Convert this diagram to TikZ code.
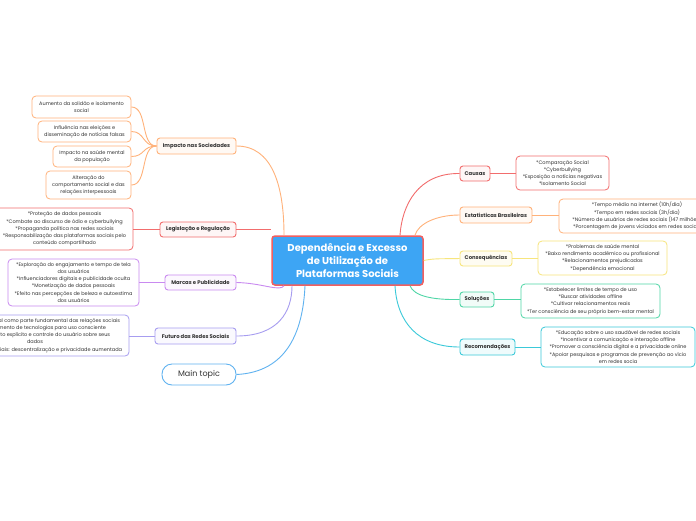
\documentclass[tikz,border=0pt]{standalone}
\usepackage{fontspec}
\setmainfont{Poppins}
\definecolor{txt}{HTML}{333333}
\definecolor{cred}{HTML}{F26D6D}
\definecolor{corange}{HTML}{FFB27A}
\definecolor{cpurple}{HTML}{C98AF0}
\definecolor{clav}{HTML}{A79DF0}
\definecolor{cblue}{HTML}{5FB2F0}
\definecolor{cyellow}{HTML}{F7E57C}
\definecolor{cgreen}{HTML}{4FD6A6}
\definecolor{ccyan}{HTML}{3BC9D9}
\definecolor{cfill}{HTML}{3DA5F4}
\definecolor{cborder}{HTML}{F25F5F}
\begin{document}
\begin{tikzpicture}[x=1pt,y=-1pt,
  leaf/.style={draw, rounded corners=4pt, line width=0.8pt, fill=white, align=center, inner sep=1pt, font=\fontsize{5}{7.2}\selectfont, text=txt},
  br/.style={draw, rounded corners=3pt, line width=0.9pt, align=center, inner sep=1pt, font=\fontsize{5.3}{6.5}\selectfont\bfseries, text=txt},
  lnk/.style={line width=0.9pt}]
\useasboundingbox (0,0) rectangle (696,520);
\clip (0,0) rectangle (696,520);
\fill[white] (0,0) rectangle (696,520);

% central
\node[draw=cborder, fill=cfill, line width=1.5pt, rounded corners=3pt, minimum width=151pt, minimum height=49pt, align=center, text=white, font=\fontsize{10}{13}\selectfont\bfseries] (c) at (347.5,260.5) {Dependência e Excesso\\de Utilização de\\Plataformas Sociais};

% left branches
\node[br, draw=corange, fill=corange!8, minimum width=79pt, minimum height=16pt] (imp) at (196.5,146) {Impacto nas Sociedades};
\node[br, draw=cred, fill=cred!6, minimum width=76pt, minimum height=15pt] (leg) at (198,229.5) {Legislação e Regulação};
\node[br, draw=cpurple, fill=cpurple!6, minimum width=71pt, minimum height=15pt] (mar) at (200.5,282.5) {Marcas e Publicidade};
\node[br, draw=clav, fill=clav!6, minimum width=81pt, minimum height=16pt] (fut) at (195.5,336) {Futuro das Redes Sociais};
\node[draw=cblue, fill=white, line width=0.9pt, rounded corners=10pt, minimum width=74pt, minimum height=21pt, text=txt, font=\fontsize{8}{9}\selectfont] (mt) at (199,374.5) {Main topic};

% left leaves
\node[leaf, draw=corange, minimum width=99pt, minimum height=22pt] (i1) at (81.5,107) {Aumento da solidão e isolamento\\social};
\node[leaf, draw=corange, minimum width=93pt, minimum height=21pt] (i2) at (84.5,131.5) {Influência nas eleições e\\disseminação de notícias falsas};
\node[leaf, draw=corange, minimum width=78pt, minimum height=21pt] (i3) at (92,156.5) {Impacto na saúde mental\\da população};
\node[leaf, draw=corange, minimum width=85pt, minimum height=28pt] (i4) at (88.5,185) {Alteração do\\comportamento social e das\\relações interpessoais};
\node[leaf, draw=cred, minimum width=137pt, minimum height=42pt] (l1) at (64.5,229) {*Proteção de dados pessoais\\*Combate ao discurso de ódio e cyberbullying\\*Propaganda política nas redes sociais\\*Responsabilização das plataformas sociais pelo\\conteúdo compartilhado};
\node[leaf, draw=cpurple, minimum width=131pt, minimum height=47pt] (m1) at (73.5,282.5) {*Exploração do engajamento e tempo de tela\\dos usuários\\*Influenciadores digitais e publicidade oculta\\*Monetização de dados pessoais\\*Efeito nas percepções de beleza e autoestima\\dos usuários};
\node[leaf, draw=clav, minimum width=188pt, minimum height=41pt] (f1) at (35,335.5) {*Inteligência artificial como parte fundamental das relações sociais\\*O desenvolvimento de tecnologias para uso consciente\\*O consentimento explícito e controle do usuário sobre seus\\dados\\*Web 3.0 e redes sociais: descentralização e privacidade aumentada};

% right branches
\node[br, draw=cred, fill=cred!6, minimum width=30pt, minimum height=15pt] (cau) at (475,173.5) {Causas};
\node[br, draw=corange, fill=corange!8, minimum width=72pt, minimum height=16pt] (est) at (496,215) {Estatísticas Brasileiras};
\node[br, draw=cyellow, fill=cyellow!10, minimum width=52pt, minimum height=15pt] (con) at (486,258.5) {Consequências};
\node[br, draw=cgreen, fill=cgreen!8, minimum width=34pt, minimum height=15pt] (sol) at (477,299.5) {Soluções};
\node[br, draw=ccyan, fill=ccyan!8, minimum width=55pt, minimum height=16pt] (rec) at (487.5,347) {Recomendações};

% right leaves
\node[leaf, draw=cred, minimum width=93pt, minimum height=34pt] (r1) at (562.5,173) {*Comparação Social\\*Cyberbullying\\*Exposição a notícias negativas\\*Isolamento Social};
\node[leaf, draw=corange, minimum width=156pt, minimum height=34pt] (r2) at (637,216) {*Tempo médio na internet (10h/dia)\\*Tempo em redes sociais (3h/dia)\\*Número de usuários de redes sociais (147 milhões)\\*Porcentagem de jovens viciados em redes sociais};
\node[leaf, draw=cyellow, minimum width=129pt, minimum height=34pt] (r3) at (602.5,258) {*Problemas de saúde mental\\*Baixo rendimento acadêmico ou profissional\\*Relacionamentos prejudicados\\*Dependência emocional};
\node[leaf, draw=cgreen, minimum width=139pt, minimum height=34pt] (r4) at (590.5,301) {*Estabelecer limites de tempo de uso\\*Buscar atividades offline\\*Cultivar relacionamentos reais\\*Ter consciência de seu próprio bem-estar mental};
\node[leaf, draw=ccyan, minimum width=154pt, minimum height=40pt] (r5) at (618,347) {*Educação sobre o uso saudável de redes sociais\\*Incentivar a comunicação e interação offline\\*Promover a consciência digital e a privacidade online\\*Apoiar pesquisas e programas de prevenção ao vício\\em redes socia};

% center connectors
\draw[lnk, corange] (imp.east) .. controls (272,146) and (284,185) .. (c.north west -| 284,0);
\draw[lnk, cred] (leg.east) -- (leg.east -| c.west);
\draw[lnk, cpurple] (mar.east) .. controls (262,283) and (280,292) .. (c.south west -| 284,0);
\draw[lnk, clav] (fut.east) .. controls (278,336) and (292,312) .. (c.south west -| 292,0);
\draw[lnk, cblue] (mt.east) .. controls (288,372) and (303,330) .. (c.south west -| 305,0);
\draw[lnk, cred] (cau.west) .. controls (418,173) and (402,205) .. (c.north west -| 400,0);
\draw[lnk, corange] (est.west) .. controls (436,215) and (418,224) .. (c.north west -| 415,0);
\draw[lnk, cyellow] (con.west) .. controls (445,259) and (435,258) .. (c.east);
\draw[lnk, cgreen] (sol.west) .. controls (432,300) and (414,296) .. (c.south west -| 410,0);
\draw[lnk, ccyan] (rec.west) .. controls (418,347) and (397,322) .. (c.south west -| 395,0);

% leaf connectors
\draw[lnk, corange] (imp.west) .. controls (140,146) and (148,107) .. (i1.east);
\draw[lnk, corange] (imp.west) .. controls (142,146) and (145,131.5) .. (i2.east);
\draw[lnk, corange] (imp.west) .. controls (142,146) and (145,156.5) .. (i3.east);
\draw[lnk, corange] (imp.west) .. controls (140,146) and (148,185) .. (i4.east);
\draw[lnk, cred] (leg.west) -- (l1.east |- leg.west);
\draw[lnk, cpurple] (mar.west) -- (m1.east |- mar.west);
\draw[lnk, clav] (fut.west) -- (f1.east |- fut.west);
\draw[lnk, cred] (cau.east) -- (r1.west |- cau.east);
\draw[lnk, corange] (est.east) -- (r2.west |- est.east);
\draw[lnk, cyellow] (con.east) -- (r3.west |- con.east);
\draw[lnk, cgreen] (sol.east) -- (r4.west |- sol.east);
\draw[lnk, ccyan] (rec.east) -- (r5.west |- rec.east);
\end{tikzpicture}
\end{document}
